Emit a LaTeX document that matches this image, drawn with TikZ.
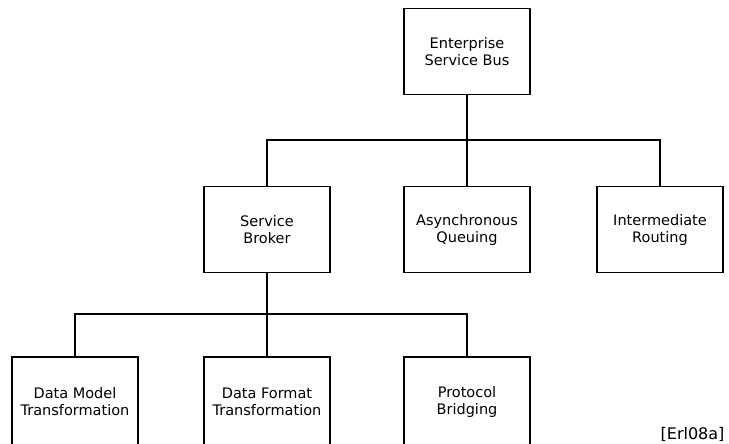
\documentclass[tikz,border=0pt]{standalone}
\usepackage{fontspec}
\setmainfont{DejaVu Sans}
\begin{document}
\begin{tikzpicture}[x=1pt,y=-1pt,
  box/.style={draw, line width=1.3pt, minimum width=126pt, minimum height=86pt,
    align=center, inner sep=0pt, font=\fontsize{14.5}{17}\selectfont},
  link/.style={line width=1.3pt}]
  \useasboundingbox (0,0) rectangle (729,444);
  \clip (0,0) rectangle (729,444);
  % top level
  \node[box] (esb) at (467,51.5) {Enterprise\\Service Bus};
  % second level
  \node[box] (sb) at (267,229.5) {Service\\Broker};
  \node[box] (aq) at (467,229.5) {Asynchronous\\Queuing};
  \node[box] (ir) at (660,229.5) {Intermediate\\Routing};
  % third level (runs off the lower edge)
  \node[box, minimum height=90pt] (dm) at (75,402) {Data Model\\Transformation};
  \node[box, minimum height=90pt] (df) at (267,402) {Data Format\\Transformation};
  \node[box, minimum height=90pt] (pb) at (467,402) {Protocol\\Bridging};
  % connectors
  \coordinate (bus1) at (467,140);
  \coordinate (bus2) at (267,314);
  \draw[link] (esb.south) -- (aq.north);
  \draw[link] (bus1) -| (sb.north);
  \draw[link] (bus1) -| (ir.north);
  \draw[link] (sb.south) -- (df.north);
  \draw[link] (bus2) -| (dm.north);
  \draw[link] (bus2) -| (pb.north);
  % citation
  \node[font=\fontsize{16}{19}\selectfont, anchor=base east] (cite) at (728,439) {[Erl08a]};
\end{tikzpicture}
\end{document}
